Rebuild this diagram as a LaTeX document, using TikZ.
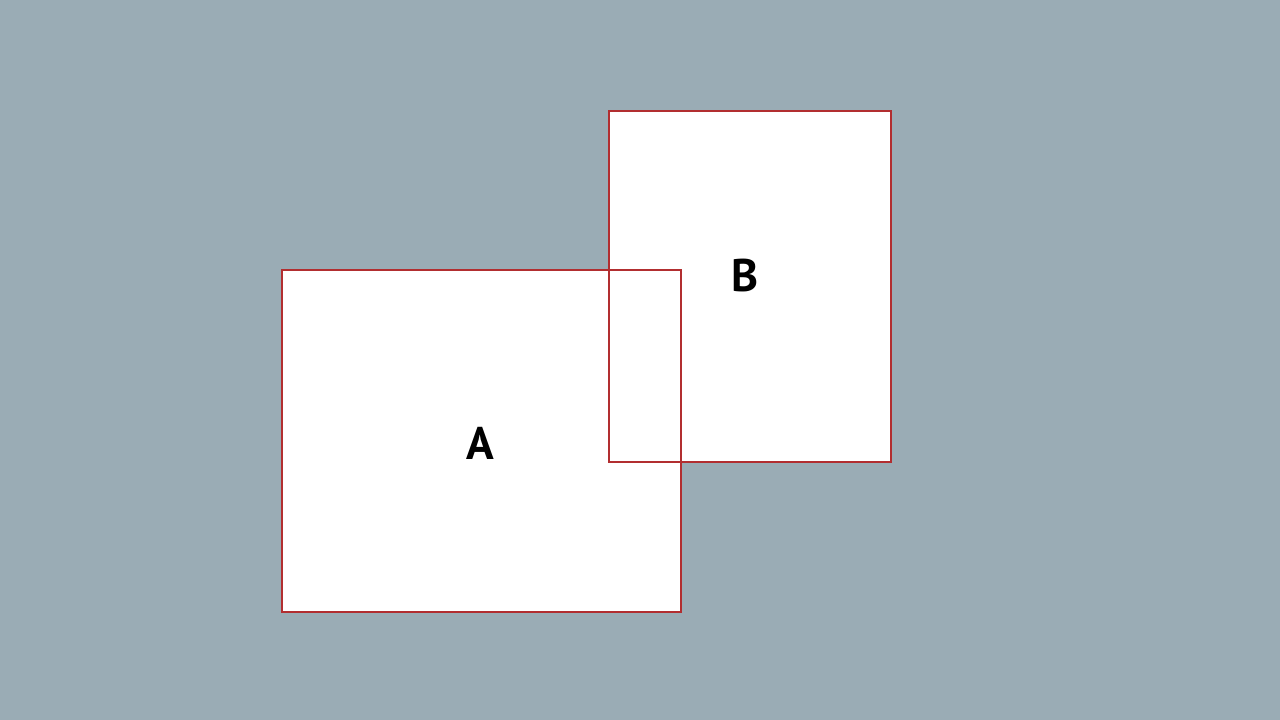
\documentclass[tikz,border=0pt]{standalone}
\usepackage{fontspec}
\setmainfont{PT Sans}
\definecolor{bgslate}{HTML}{9AACB5}
\definecolor{boxred}{HTML}{B22E30}
\begin{document}
\begin{tikzpicture}[
        boxstyle/.style={
            fill=white,
            inner sep=0pt,
            outer sep=0pt,},
        edgestyle/.style={
            draw=boxred,
            line width=0.6pt,},
        labelstyle/.style={
            font=\fontsize{13}{15}\selectfont\bfseries,
            inner sep=0pt,}
        ]

        \fill[bgslate] (0,0) rectangle (12.8,7.2);
        \useasboundingbox (0,0) rectangle (12.8,7.2);

        % white boxes first, outlines on top
        \node[boxstyle, minimum width=3.99cm, minimum height=3.42cm] (boxa) at (4.815,2.79) {};
        \node[boxstyle, minimum width=2.82cm, minimum height=3.51cm] (boxb) at (7.50,4.335) {};

        \draw[edgestyle] (boxa.south west) rectangle (boxa.north east);
        \draw[edgestyle] (boxb.south west) rectangle (boxb.north east);

        \node[labelstyle] (labela) at (4.80,2.77) {A};
        \node[labelstyle] (labelb) at (7.45,4.44) {B};

    \end{tikzpicture}
\end{document}
